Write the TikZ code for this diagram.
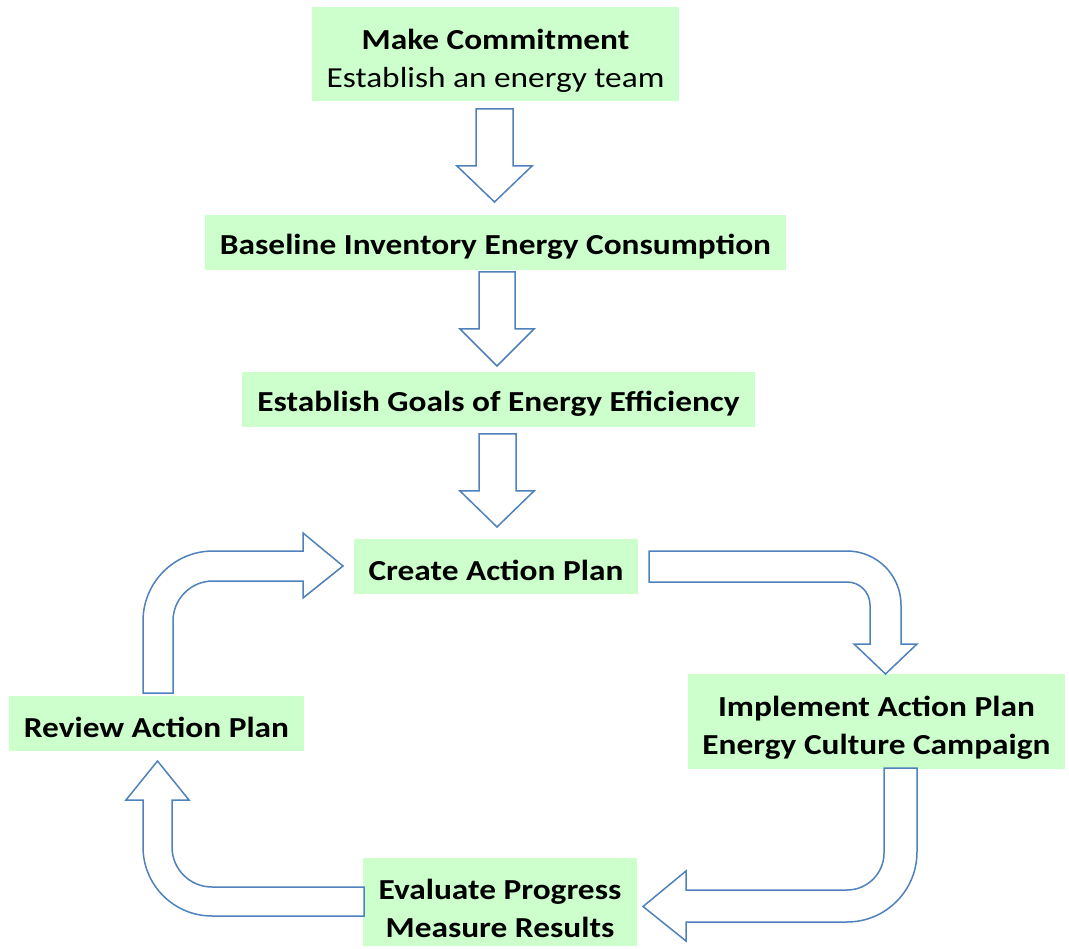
\documentclass[tikz,border=0pt]{standalone}
\usepackage{fontspec}
\setmainfont[FakeStretch=1.15]{Carlito}
\definecolor{vertboite}{RGB}{204,255,204}
\definecolor{bleufleche}{RGB}{79,129,189}
\begin{document}
\begin{tikzpicture}[x=1pt,y=-1pt]
% Styles
\tikzstyle{boite}=[fill=vertboite,inner sep=0pt,align=center,font=\fontsize{29}{38}\selectfont\bfseries]
\tikzstyle{fleche}=[draw=bleufleche,fill=white,line width=1.5pt,line join=miter]
% Cales pour descendre le texte
\def\caleA{\rule{0pt}{28pt}}
\def\caleB{\rule{0pt}{33pt}}
% Cadre
\useasboundingbox (0,0) rectangle (1069,949);
% Boites
\node[boite,minimum width=367,minimum height=94] (engagement) at (495.5,54) {\caleB Make Commitment\\{\mdseries Establish an energy team}};
\node[boite,minimum width=581,minimum height=55] (inventaire) at (495.5,242.5) {\caleA Baseline Inventory Energy Consumption};
\node[boite,minimum width=513,minimum height=55] (objectifs) at (498.5,399.5) {\caleA Establish Goals of Energy Efficiency};
\node[boite,minimum width=284,minimum height=55] (creer) at (496,566.5) {\caleA Create Action Plan};
\node[boite,minimum width=377,minimum height=95] (appliquer) at (876.5,721.5) {\caleB Implement Action Plan\\Energy Culture Campaign};
\node[boite,minimum width=274,minimum height=88] (evaluer) at (500,902) {\caleB Evaluate Progress\\Measure Results};
\node[boite,minimum width=295,minimum height=55] (revoir) at (156.5,723.5) {\caleA Review Action Plan};
% Flèches droites
\draw[fleche] (476,109) -- (513,109) -- (513,166) -- (532,166) -- (494.5,202) -- (457,166) -- (476,166) -- cycle;
\draw[fleche] (479,272) -- (515,272) -- (515,329) -- (534,329) -- (497,366) -- (460,329) -- (479,329) -- cycle;
\draw[fleche] (479,434) -- (516,434) -- (516,491) -- (534,491) -- (497,527) -- (460,491) -- (479,491) -- cycle;
% Flèches courbes
\draw[fleche] (649,551) -- (847,551) arc[start angle=270,end angle=360,radius=54] -- (901,644) -- (917,644) -- (885.5,674) -- (854,644) -- (870,644) -- (870,605) arc[start angle=0,end angle=-90,radius=23] -- (649,582) -- cycle;
\draw[fleche] (884,768) -- (917,768) -- (917,852) arc[start angle=0,end angle=90,radius=70] -- (686,922) -- (686,941) -- (643,906.5) -- (686,871) -- (686,890) -- (847,890) arc[start angle=90,end angle=0,radius=37] -- cycle;
\draw[fleche] (364,916) -- (212,916) arc[start angle=90,end angle=180,radius=69] -- (143,800) -- (126,800) -- (157.5,761) -- (189,800) -- (172,800) -- (172,847) arc[start angle=180,end angle=90,radius=40] -- (364,887) -- cycle;
\draw[fleche] (143,693) -- (143,621) arc[start angle=180,end angle=270,radius=70] -- (303,551) -- (303,533) -- (343,566) -- (303,598) -- (303,581) -- (213,581) arc[start angle=270,end angle=180,radius=40] -- (173,693) -- cycle;
\end{tikzpicture}
\end{document}
